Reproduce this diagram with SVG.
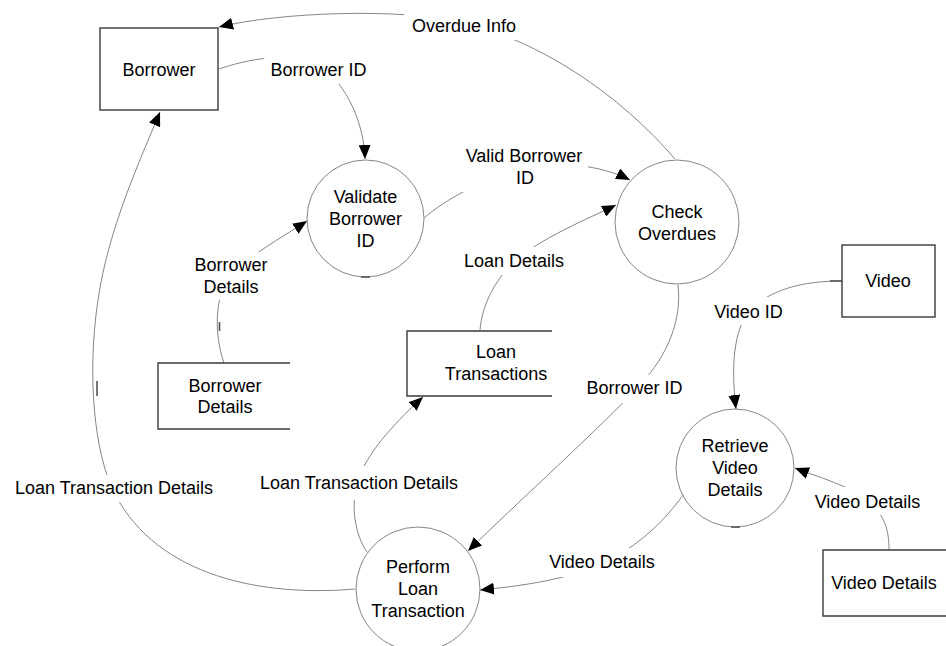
<svg xmlns="http://www.w3.org/2000/svg" width="946" height="646" viewBox="0 0 946 646">
<style>
text{font-family:"Liberation Sans",Arial,sans-serif;font-size:18px;fill:#000;text-anchor:middle}
.c{fill:none;stroke:#858585;stroke-width:1}
.proc{fill:#fff;stroke:#858585;stroke-width:1}
.ent{fill:#fff;stroke:#3a3a3a;stroke-width:1.4}
.store{fill:none;stroke:#3a3a3a;stroke-width:1.4}
.bg{fill:#fff;stroke:none}
.tick{stroke:#555;stroke-width:1.6}
</style>
<defs>
<marker id="ah" markerUnits="userSpaceOnUse" markerWidth="15" markerHeight="12" refX="14" refY="6" orient="auto">
<path d="M0,0 L14,6 L0,12 z" fill="#000"/>
</marker>
</defs>
<rect width="946" height="646" fill="#fff"/>
<g id="connectors">
<path class="c" d="M675,159 C620,95 540,40 460,22 C400,8 280,12 219,27" marker-end="url(#ah)"/>
<path class="c" d="M219,69 C245,60 290,50 320,66 C348,85 364,125 365,159" marker-end="url(#ah)"/>
<path class="c" d="M424,218 C445,200 480,180 520,170 C560,160 600,165 630,180" marker-end="url(#ah)"/>
<path class="c" d="M480,330 C482,305 495,280 514,262 C540,238 590,218 616,205" marker-end="url(#ah)"/>
<path class="c" d="M224,363 C216,340 214,310 224,285 C240,260 275,242 307,221" marker-end="url(#ah)"/>
<path class="c" d="M367,552 C355,535 350,505 358,480 C368,450 400,418 423,397" marker-end="url(#ah)"/>
<path class="c" d="M678,285 C682,320 668,355 640,385 C600,428 520,500 468,551" marker-end="url(#ah)"/>
<path class="c" d="M842,281 C800,281 775,290 755,305 C735,322 730,360 736,409" marker-end="url(#ah)"/>
<path class="c" d="M889,550 C889,530 885,515 867,500 C850,486 818,477 795,468" marker-end="url(#ah)"/>
<path class="c" d="M683,495 C665,520 645,540 610,560 C570,580 520,586 480,590" marker-end="url(#ah)"/>
<path class="c" d="M355,589 C250,598 150,570 112,488 C96,453 86,380 98,300 C108,230 140,160 160,112" marker-end="url(#ah)"/>
<line class="tick" x1="830" y1="281" x2="842" y2="281"/>
<line class="tick" x1="219.5" y1="322" x2="219.5" y2="331"/>
<line class="tick" x1="97" y1="381" x2="97" y2="396"/>
<rect class="bg" x="404" y="12" width="120" height="28"/>
<text x="464" y="32">Overdue Info</text>
<rect class="bg" x="264" y="50" width="108" height="34"/>
<text x="318.5" y="76">Borrower ID</text>
<rect class="bg" x="458" y="144" width="130" height="48"/>
<text x="524" y="162">Valid Borrower</text>
<text x="525" y="184">ID</text>
<rect class="bg" x="458" y="247" width="112" height="28"/>
<text x="514" y="267">Loan Details</text>
<rect class="bg" x="190" y="252" width="84" height="48"/>
<text x="231" y="271">Borrower</text>
<text x="231" y="293">Details</text>
<rect class="bg" x="8" y="475" width="212" height="27"/>
<text x="114" y="494">Loan Transaction Details</text>
<rect class="bg" x="252" y="466" width="214" height="34"/>
<text x="359" y="489">Loan Transaction Details</text>
<rect class="bg" x="582" y="375" width="106" height="28"/>
<text x="634.5" y="394">Borrower ID</text>
<rect class="bg" x="710" y="297" width="78" height="28"/>
<text x="748.5" y="318">Video ID</text>
<rect class="bg" x="808" y="487" width="118" height="28"/>
<text x="867.5" y="508">Video Details</text>
<rect class="bg" x="544" y="548" width="116" height="29"/>
<text x="602" y="568">Video Details</text>
</g>
<g id="borrower">
<rect class="ent" x="100" y="28" width="118" height="82"/>
<text x="159" y="76">Borrower</text>
</g>
<g id="validate">
<circle class="proc" cx="365.5" cy="218.5" r="58.5"/>
<line class="tick" x1="361" y1="277" x2="370" y2="277"/>
<text x="365.5" y="203">Validate</text>
<text x="365.5" y="225">Borrower</text>
<text x="365.5" y="247">ID</text>
</g>
<g id="check">
<circle class="proc" cx="677" cy="222" r="62"/>
<text x="677" y="218">Check</text>
<text x="677" y="240">Overdues</text>
</g>
<g id="video">
<rect class="ent" x="842" y="245" width="93" height="72"/>
<text x="888" y="287">Video</text>
</g>
<g id="borrower-details">
<path class="store" d="M290,363 H158 V429 H290"/>
<text x="225" y="392">Borrower</text>
<text x="225" y="413">Details</text>
</g>
<g id="loan-transactions">
<path class="store" d="M552,331 H407 V396 H552"/>
<text x="496" y="358">Loan</text>
<text x="496" y="380">Transactions</text>
</g>
<g id="retrieve">
<circle class="proc" cx="735" cy="468" r="59"/>
<line class="tick" x1="731" y1="527" x2="740" y2="527"/>
<text x="735" y="452">Retrieve</text>
<text x="735" y="474">Video</text>
<text x="735" y="496">Details</text>
</g>
<g id="perform">
<circle class="proc" cx="418" cy="589" r="62"/>
<text x="418" y="573">Perform</text>
<text x="418" y="595">Loan</text>
<text x="418" y="617">Transaction</text>
</g>
<g id="video-details">
<path class="store" d="M946,550 H823 V616 H946"/>
<text x="884" y="589">Video Details</text>
</g>
</svg>
